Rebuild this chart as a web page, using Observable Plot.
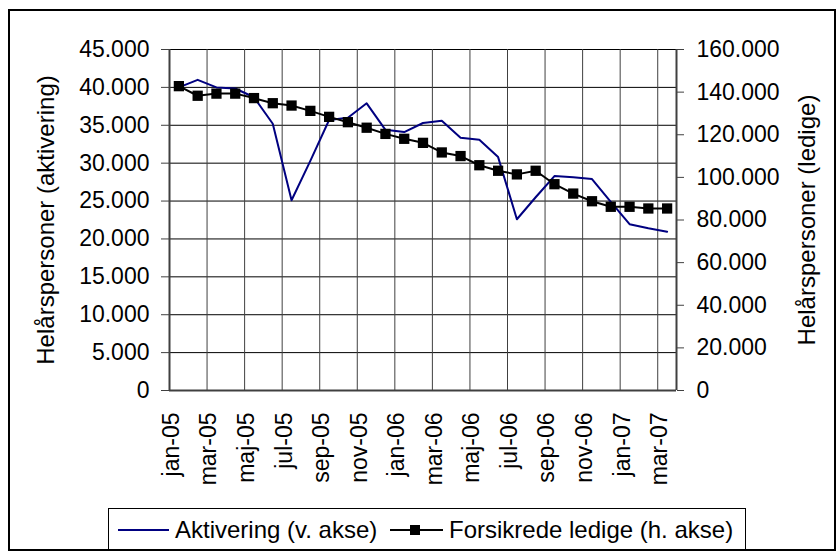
<!DOCTYPE html>
<html>
<head>
<meta charset="utf-8">
<script src="https://cdn.jsdelivr.net/npm/d3@7"></script>
<script src="https://cdn.jsdelivr.net/npm/@observablehq/plot@0.6"></script>
<style>
  html, body { margin: 0; padding: 0; background: #fff; }
  #wrap { position: relative; width: 838px; height: 554px; overflow: hidden; font-family: "Liberation Sans", Arial, sans-serif; }
  #frame { position: absolute; left: 8px; top: 9px; width: 828px; height: 542px; border: 2px solid #000; box-sizing: border-box; pointer-events: none; }
  #legend { position: absolute; left: 108px; top: 508px; width: 638px; height: 43px; border: 1px solid #000; box-sizing: border-box; background: #fff; }
  #legend .t { position: absolute; top: 0; line-height: 41px; font-size: 24px; color: #000; white-space: nowrap; }
  #legend .ln { position: absolute; height: 2px; top: 20px; }
  #legend .sq { position: absolute; width: 10px; height: 10px; top: 16px; background: #000; }
</style>
</head>
<body>
<div id="wrap">
  <div id="chart"></div>
  <div id="legend">
    <div class="ln" style="left:9px;width:51px;background:#000080"></div>
    <div class="t" style="left:66px">Aktivering (v. akse)</div>
    <div class="ln" style="left:281px;width:53px;background:#000"></div>
    <div class="sq" style="left:301px"></div>
    <div class="t" style="left:340px">Forsikrede ledige (h. akse)</div>
  </div>
  <div id="frame"></div>
</div>
<script>
const months = ["jan-05","feb-05","mar-05","apr-05","maj-05","jun-05","jul-05","aug-05","sep-05","okt-05","nov-05","dec-05",
  "jan-06","feb-06","mar-06","apr-06","maj-06","jun-06","jul-06","aug-06","sep-06","okt-06","nov-06","dec-06",
  "jan-07","feb-07","mar-07"];
const aktivering = [40000,41000,40000,39850,38700,35200,25100,30300,35700,36000,37900,34400,
  34100,35300,35600,33350,33100,30800,22600,25500,28300,28150,27900,24900,
  21950,21400,20950];
const ledige = [142800,138300,139300,139300,137200,134800,133700,131200,128400,125900,123300,120400,
  118100,116200,111700,110000,105700,103100,101400,103100,96800,92400,88800,86200,
  86200,85400,85400];
const leftTicks = [0,5000,10000,15000,20000,25000,30000,35000,40000,45000];
const rightTicks = [0,20000,40000,60000,80000,100000,120000,140000,160000];
const ratio = 45000 / 160000;

const fmt = v => String(Math.round(v)).replace(/\B(?=(\d{3})+(?!\d))/g, ".");
const idx = months.map((m, i) => i);
const even = idx.filter(i => i % 2 === 0);

const axisColor = "#404040";
const font = "Liberation Sans, Arial, sans-serif";

const chart = Plot.plot({
  width: 838,
  height: 554,
  marginLeft: 169,
  marginRight: 162,
  marginTop: 49,
  marginBottom: 164,
  style: { fontFamily: font, fontSize: "23px", color: "#000", background: "transparent", overflow: "visible" },
  x: { domain: [-0.5, 26.5], axis: null },
  y: { domain: [0, 45000], axis: null },
  marks: [
    Plot.ruleY(leftTicks.filter(v => v > 0), { x1: -0.5, x2: 26.5, stroke: "#000", strokeWidth: 1 }),
    // left axis
    Plot.axisY(leftTicks, { anchor: "left", tickSize: 8, tickPadding: 12, tickFormat: fmt, stroke: axisColor, fontSize: 23, label: null }),
    // right axis (secondary, mapped onto the left scale)
    Plot.axisY(rightTicks.map(v => v * ratio), { anchor: "right", tickSize: 7, tickPadding: 13, tickFormat: v => fmt(v / ratio), stroke: axisColor, fontSize: 23, label: null }),
    // x ticks at category boundaries
    Plot.tickX(even.map(i => i - 0.5), { x: d => d, y1: 0, y2: 0, stroke: axisColor }),
    Plot.ruleX(even.map(i => i - 0.5), { x: d => d, y: 0, stroke: axisColor, strokeWidth: 1.5 }),
    Plot.text(even, { x: i => i, text: i => months[i], frameAnchor: "bottom", rotate: -90, textAnchor: "end", dy: 22, fontSize: 23, fill: "#000" }),
    // axis lines
    Plot.ruleX([-0.5], { y1: 0, y2: 45000, stroke: axisColor, strokeWidth: 2 }),
    Plot.ruleX([26.5], { y1: 0, y2: 45000, stroke: axisColor, strokeWidth: 2 }),
    Plot.ruleY([0], { x1: -0.5, x2: 26.5, stroke: axisColor, strokeWidth: 2 }),
    // axis titles
    Plot.text(["Helårspersoner (aktivering)"], { frameAnchor: "left", textAnchor: "middle", dx: -123, rotate: -90, fontSize: 24, fill: "#000" }),
    Plot.text(["Helårspersoner (ledige)"], { frameAnchor: "right", textAnchor: "middle", dx: 131, rotate: -90, fontSize: 24, fill: "#000" }),
    // series
    Plot.line(idx, { x: i => i, y: i => aktivering[i], stroke: "#000080", strokeWidth: 2 }),
    Plot.line(idx, { x: i => i, y: i => ledige[i] * ratio, stroke: "#000", strokeWidth: 2 }),
    Plot.dot(idx, { x: i => i, y: i => ledige[i] * ratio, symbol: "square", r: 5.8, fill: "#000", stroke: "none" })
  ]
});
document.getElementById("chart").appendChild(chart);
</script>
</body>
</html>
